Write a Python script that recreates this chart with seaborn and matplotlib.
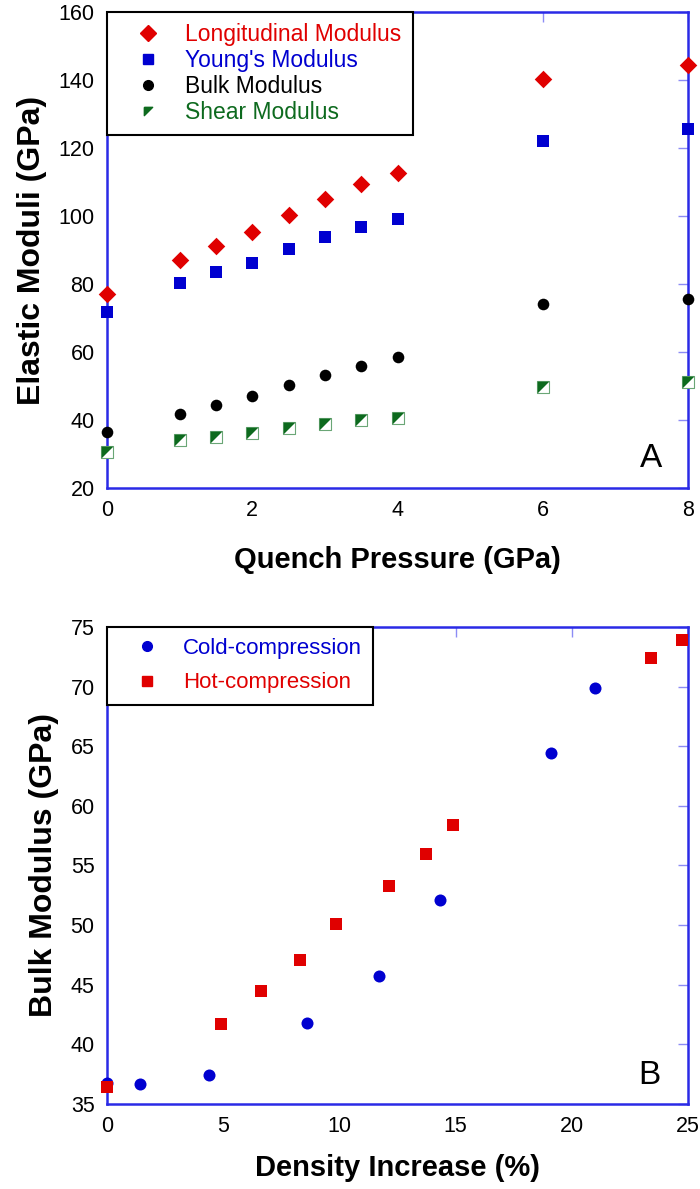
import numpy as np
import pandas as pd
import matplotlib
matplotlib.use("Agg")
import matplotlib.pyplot as plt
from matplotlib.lines import Line2D
import seaborn as sns

# panel A: moduli vs quench pressure
pressure = [0, 1, 1.5, 2, 2.5, 3, 3.5, 4, 6, 8]
longitudinal = [77.2, 87.0, 91.2, 95.3, 100.2, 104.9, 109.3, 112.6, 140.4, 144.4]
youngs = [71.8, 80.2, 83.4, 86.2, 90.3, 93.8, 96.9, 99.0, 122.0, 125.5]
bulk = [36.5, 41.7, 44.4, 47.0, 50.2, 53.3, 56.0, 58.5, 74.1, 75.7]
shear = [30.7, 34.1, 35.0, 36.1, 37.7, 38.9, 40.0, 40.7, 49.7, 51.3]

# panel B: bulk modulus vs density increase
cold_density = [0, 1.42, 4.4, 8.59, 11.68, 14.32, 19.08, 20.98]
cold_bulk = [36.8, 36.7, 37.4, 41.8, 45.7, 52.1, 64.4, 69.85]
hot_density = [0, 4.88, 6.64, 8.29, 9.85, 12.15, 13.72, 14.88, 23.4, 24.75]
hot_bulk = [36.4, 41.7, 44.5, 47.1, 50.1, 53.3, 56.0, 58.4, 72.4, 73.9]

sns.set_theme(style="white")
plt.rcParams["font.family"] = ["Liberation Sans", "DejaVu Sans"]
plt.rcParams["text.color"] = "black"
plt.rcParams["axes.labelcolor"] = "black"
plt.rcParams["xtick.labelcolor"] = "black"
plt.rcParams["ytick.labelcolor"] = "black"

RED = "#e00000"
BLUE = "#0000d0"
GREEN = "#0d6a1e"
SPINE = "#2a2ae6"
TICK = "#8c8cf5"
tri = [(-1, 1), (1, 1), (-1, -1), (-1, 1)]

fig = plt.figure(figsize=(7, 11.89), dpi=100)
axA = fig.add_axes([0.153, 0.5896, 0.830, 0.4003])
axB = fig.add_axes([0.153, 0.0715, 0.830, 0.4012])

# ---- panel A
sns.scatterplot(x=pressure, y=longitudinal, marker="D", color=RED, s=80,
                edgecolor=RED, linewidth=0, ax=axA, clip_on=False, zorder=3)
sns.scatterplot(x=pressure, y=youngs, marker="s", color=BLUE, s=80,
                edgecolor=BLUE, linewidth=0, ax=axA, clip_on=False, zorder=3)
sns.scatterplot(x=pressure, y=bulk, marker="o", color="black", s=70,
                edgecolor="black", linewidth=0, ax=axA, clip_on=False, zorder=3)
sns.scatterplot(x=pressure, y=shear, marker="s", color="white", s=70,
                edgecolor="#6aa676", linewidth=0.8, ax=axA, clip_on=False, zorder=3)
sns.scatterplot(x=pressure, y=shear, marker=tri, color=GREEN, s=70,
                edgecolor=GREEN, linewidth=0, ax=axA, clip_on=False, zorder=4)

axA.set_xlim(0, 8)
axA.set_ylim(20, 160)
axA.set_xticks([0, 2, 4, 6, 8])
axA.set_yticks(range(20, 161, 20))
axA.set_xlabel("Quench Pressure (GPa)", fontsize=21, fontweight="bold", labelpad=18)
axA.set_ylabel("Elastic Moduli (GPa)", fontsize=23, fontweight="bold", labelpad=8)
axA.text(0.936, 0.062, "A", transform=axA.transAxes, ha="center", va="center", fontsize=24)

handlesA = [
    Line2D([], [], ls="", marker="D", color=RED, ms=8),
    Line2D([], [], ls="", marker="s", color=BLUE, ms=7),
    Line2D([], [], ls="", marker="o", color="black", ms=7),
    Line2D([], [], ls="", marker=tri, color=GREEN, ms=6),
]
labelsA = ["Longitudinal Modulus", "Young's Modulus", "Bulk Modulus", "Shear Modulus"]
legA = axA.legend(handlesA, labelsA, loc="upper left", bbox_to_anchor=(0, 1),
                  borderaxespad=0, fontsize=16.5, frameon=True, fancybox=False,
                  edgecolor="black", framealpha=1, labelspacing=0.12,
                  handlelength=2.6, handletextpad=0.3, borderpad=0.5)
for txt, c in zip(legA.get_texts(), [RED, BLUE, "black", GREEN]):
    txt.set_color(c)

# ---- panel B
sns.scatterplot(x=cold_density, y=cold_bulk, marker="o", color=BLUE, s=75,
                edgecolor=BLUE, linewidth=0, ax=axB, clip_on=False, zorder=3)
sns.scatterplot(x=hot_density, y=hot_bulk, marker="s", color=RED, s=80,
                edgecolor=RED, linewidth=0, ax=axB, clip_on=False, zorder=3)

axB.set_xlim(0, 25)
axB.set_ylim(35, 75)
axB.set_xticks(range(0, 26, 5))
axB.set_yticks(range(35, 76, 5))
axB.set_xlabel("Density Increase (%)", fontsize=21, fontweight="bold", labelpad=12)
axB.set_ylabel("Bulk Modulus (GPa)", fontsize=23, fontweight="bold", labelpad=8)
axB.text(0.934, 0.06, "B", transform=axB.transAxes, ha="center", va="center", fontsize=24)

handlesB = [
    Line2D([], [], ls="", marker="o", color=BLUE, ms=7),
    Line2D([], [], ls="", marker="s", color=RED, ms=7),
]
legB = axB.legend(handlesB, ["Cold-compression", "Hot-compression"], loc="upper left",
                  bbox_to_anchor=(0, 1), borderaxespad=0, fontsize=16, frameon=True,
                  fancybox=False, edgecolor="black", framealpha=1, labelspacing=0.6,
                  handlelength=2.6, handletextpad=0.3, borderpad=0.5)
for txt, c in zip(legB.get_texts(), [BLUE, RED]):
    txt.set_color(c)

for ax in (axA, axB):
    for sp in ax.spines.values():
        sp.set_color(SPINE)
        sp.set_linewidth(1.8)
    ax.tick_params(direction="in", top=True, right=True, length=7, width=1,
                   color=TICK, labelsize=15.5, pad=9)
    ax.get_legend().get_frame().set_linewidth(1.5)

fig.savefig("out.png", dpi=100)
